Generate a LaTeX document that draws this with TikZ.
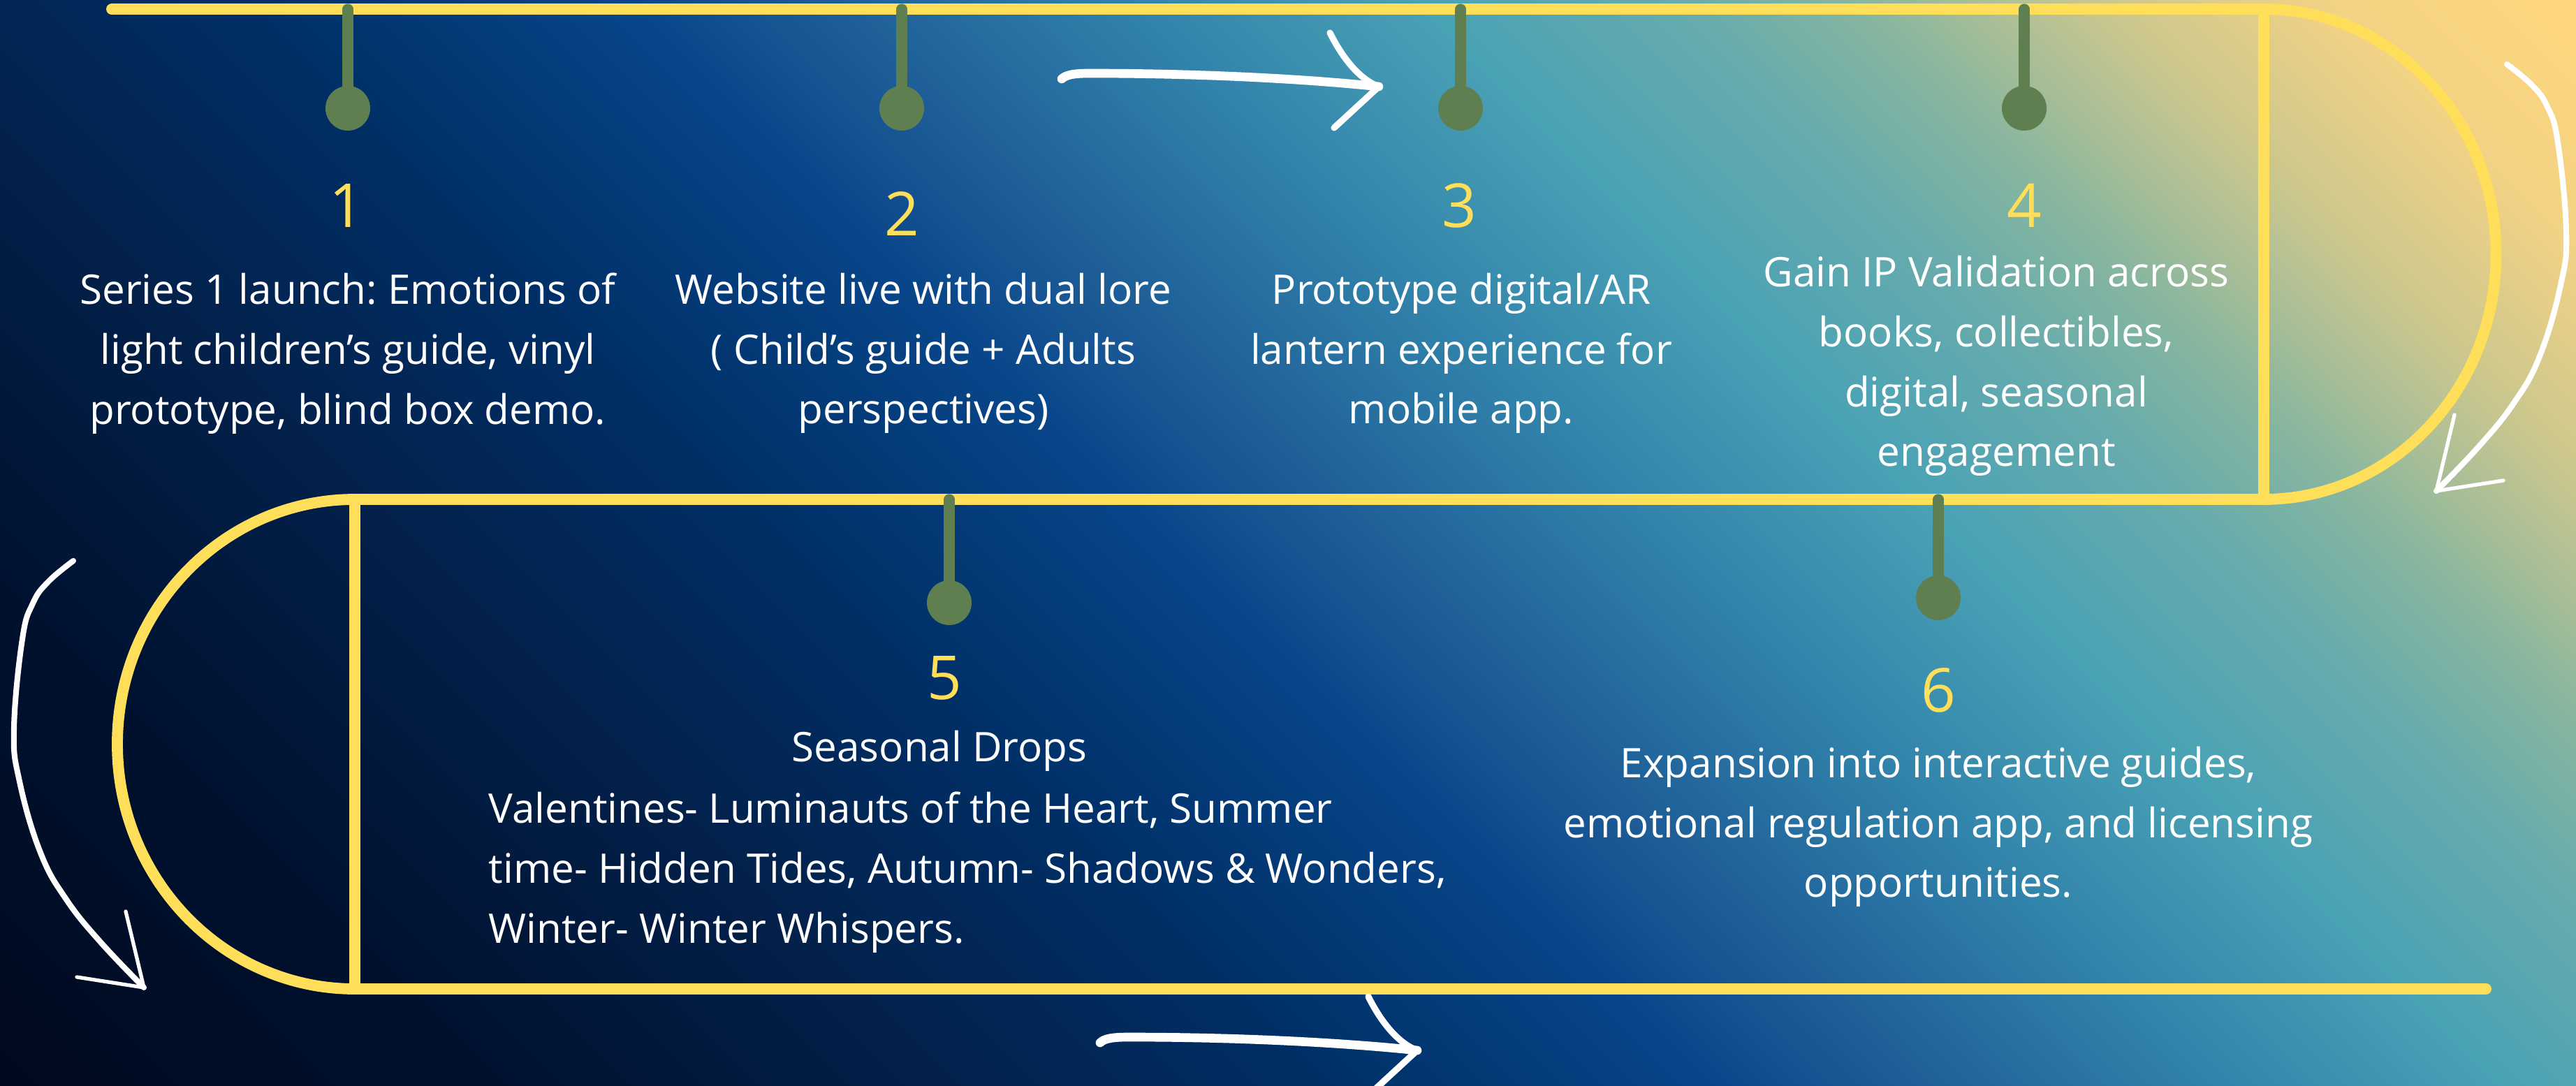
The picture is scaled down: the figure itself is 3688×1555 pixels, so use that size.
\documentclass[tikz,border=0pt]{standalone}
\usepackage{fontspec}
\setmainfont{Open Sans}
\usepackage{tikz}
\usepackage{tkz-euclide}
\usepackage{xcolor}
\frenchspacing

\definecolor{trackyellow}{HTML}{FFDE59}
\definecolor{pingreen}{HTML}{5F7F50}
\definecolor{sky0}{HTML}{000A1E}
\definecolor{sky1}{HTML}{00112F}
\definecolor{sky2}{HTML}{03214B}
\definecolor{sky3}{HTML}{002F66}
\definecolor{sky4}{HTML}{08468A}
\definecolor{sky5}{HTML}{1C5A96}
\definecolor{sky6}{HTML}{3081AA}
\definecolor{sky7}{HTML}{4AA2B5}
\definecolor{sky8}{HTML}{66ABAD}
\definecolor{sky9}{HTML}{85B5A0}
\definecolor{sky10}{HTML}{C8C68F}
\definecolor{sky11}{HTML}{F2D284}
\definecolor{sky12}{HTML}{FFD67E}

\pgfdeclarehorizontalshading{duskbg}{100bp}{color(0bp)=(sky0); color(25bp)=(sky0);
  color(31.7bp)=(sky1); color(37.9bp)=(sky2); color(43.1bp)=(sky3); color(48.4bp)=(sky4);
  color(50.75bp)=(sky5); color(55bp)=(sky6); color(59.3bp)=(sky7); color(62.7bp)=(sky8);
  color(65.1bp)=(sky9); color(68.4bp)=(sky10); color(71.7bp)=(sky11); color(75bp)=(sky12);
  color(100bp)=(sky12)}

\tikzset{
  track/.style={draw=trackyellow, line width=4.5pt},
  pin/.style={draw=pingreen, line width=4.3pt},
  pinhead/.style={fill=pingreen},
  stepnum/.style={text=trackyellow, inner sep=0pt, font=\fontsize{24.7}{30}\selectfont},
  steptext/.style={text=white, inner sep=0pt, align=center, font=\fontsize{16.6}{24.4}\selectfont},
  chalk/.style={draw=white, line cap=round, line join=round},
  straightarrow/.pic={
    \draw[chalk, line width=3.6pt] (0,0) .. controls (6,-6) and (18,-8) .. (40,-8) .. controls (200,-8) and (350,0) .. (454,11);
    \draw[chalk, line width=2.6pt] (384,-66) .. controls (405,-24) and (430,2) .. (454,11) -- (390,70);
  },
  curlarrow/.pic={
    \draw[chalk, line width=2.3pt] plot[smooth, tension=0.7] coordinates {(0,0) (36,30) (58,61) (73,112) (85,240) (77,316) (47,418) (10,485) (-39,546) (-101,611)};
    \draw[chalk, line width=1.5pt] (-75,502) -- (-101,611) -- (-5,596);
  }
}

\begin{document}
\begin{tikzpicture}[x=0.01cm, y=-0.01cm]
  \useasboundingbox (0,0) rectangle (3688,1555);
  \begin{scope}
    \clip (0,0) rectangle (3688,1555);
    \shade[shading=duskbg, shading angle=45] (-10,-1076.5) rectangle (3698,2631.5);
  \end{scope}
  \tkzDefPoint(160,13){A}
  \tkzDefPoint(3241,13){B}
  \tkzDefPoint(3241,715){C}
  \tkzDefPoint(508,715){D}
  \tkzDefPoint(508,1416){E}
  \tkzDefPoint(3559,1416){F}
  \tkzDefPoint(498,13){T1}
  \tkzDefPoint(1291,13){T2}
  \tkzDefPoint(2091,13){T3}
  \tkzDefPoint(2898,13){T4}
  \tkzDefPoint(1359,715){T5}
  \tkzDefPoint(2775,715){T6}
  \tkzDefPoint(498,155){P1}
  \tkzDefPoint(1291,155){P2}
  \tkzDefPoint(2091,155){P3}
  \tkzDefPoint(2898,155){P4}
  \tkzDefPoint(1359,863){P5}
  \tkzDefPoint(2775,856){P6}
  \tkzDrawSegments[track](A,B D,C E,F)
  \draw[track] (B) arc[start angle=-90, end angle=90, x radius=332.5, y radius=351] -- cycle;
  \draw[track] (D) arc[start angle=270, end angle=90, x radius=340, y radius=350.5] -- cycle;
  \tkzDrawSegments[pin](T1,P1 T2,P2 T3,P3 T4,P4 T5,P5 T6,P6)
  \fill[pinhead] (P1) circle[radius=32] (P2) circle[radius=32] (P3) circle[radius=32]
    (P4) circle[radius=32] (P5) circle[radius=32] (P6) circle[radius=32];
  \node[stepnum] (n1) at (496,294) {1};
  \node[steptext] (s1) at (498,506) {Series 1 launch: Emotions of\\light children’s guide, vinyl\\prototype, blind box demo.};
  \node[stepnum] (n2) at (1291,306) {2};
  \node[steptext] (s2) at (1322,506) {Website live with dual lore\\( Child’s guide + Adults\\perspectives)};
  \node[stepnum] (n3) at (2089,294) {3};
  \node[steptext] (s3) at (2092,506) {Prototype digital/AR\\lantern experience for\\mobile app.};
  \node[stepnum] (n4) at (2898,294) {4};
  \node[steptext] (s4) at (2858,524) {Gain IP Validation across\\books, collectibles,\\digital, seasonal\\engagement};
  \node[stepnum] (n5) at (1352,971) {5};
  \node[steptext] (s5) at (1345,1075) {Seasonal Drops};
  \node[steptext, align=left, anchor=west] (d5) at (699,1249) {Valentines- Luminauts of the Heart, Summer\\time- Hidden Tides, Autumn- Shadows \& Wonders,\\Winter- Winter Whispers.};
  \node[stepnum] (n6) at (2775,988) {6};
  \node[steptext] (s6) at (2775,1184) {Expansion into interactive guides,\\emotional regulation app, and licensing\\opportunities.};
  \pic at (1520,113) {straightarrow};
  \pic at (1575,1493) {straightarrow};
  \pic at (3589,92) {curlarrow};
  \pic[xscale=-1] at (105,803) {curlarrow};
\end{tikzpicture}
\end{document}
